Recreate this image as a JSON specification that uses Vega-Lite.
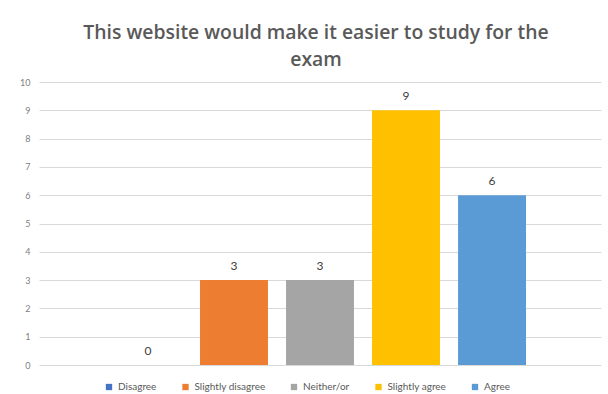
{
  "$schema": "https://vega.github.io/schema/vega-lite/v6.json",
  "width": 562,
  "height": 283,
  "autosize": "none",
  "padding": {"left": 39, "top": 82, "right": 7, "bottom": 29},
  "background": "white",
  "title": {
    "text": ["This website would make it easier to study for the", "exam"],
    "font": "Open Sans",
    "fontSize": 19.4,
    "fontWeight": 600,
    "color": "#595959",
    "lineHeight": 27,
    "offset": 8,
    "anchor": "middle",
    "dx": -4
  },
  "data": {
    "values": [
      {"response": "Disagree", "count": 0},
      {"response": "Slightly disagree", "count": 3},
      {"response": "Neither/or", "count": 3},
      {"response": "Slightly agree", "count": 9},
      {"response": "Agree", "count": 6}
    ]
  },
  "config": {
    "view": {"stroke": null},
    "font": "Lato"
  },
  "encoding": {
    "x": {
      "field": "response",
      "type": "nominal",
      "sort": null,
      "axis": null,
      "scale": {"paddingInner": 0.21, "paddingOuter": 0.872}
    },
    "y": {
      "field": "count",
      "type": "quantitative",
      "scale": {"domain": [0, 10]},
      "axis": {
        "title": null,
        "values": [0, 1, 2, 3, 4, 5, 6, 7, 8, 9, 10],
        "domain": false,
        "ticks": false,
        "labelPadding": 9,
        "labelFontSize": 9,
        "labelColor": "#808080",
        "gridColor": "#d9d9d9",
        "gridWidth": 1
      }
    }
  },
  "layer": [
    {
      "mark": {"type": "bar"},
      "encoding": {
        "color": {
          "field": "response",
          "type": "nominal",
          "sort": null,
          "scale": {
            "domain": ["Disagree", "Slightly disagree", "Neither/or", "Slightly agree", "Agree"],
            "range": ["#4472C4", "#ED7D31", "#A5A5A5", "#FFC000", "#5B9BD5"]
          },
          "legend": {
            "title": null,
            "orient": "none",
            "direction": "horizontal",
            "legendX": 65,
            "legendY": 300,
            "columns": 5,
            "symbolType": "square",
            "symbolSize": 40,
            "symbolStrokeWidth": 0,
            "labelFontSize": 10,
            "labelColor": "#595959",
            "labelOffset": 4,
            "columnPadding": 23.5
          }
        }
      }
    },
    {
      "mark": {"type": "text", "baseline": "bottom", "dy": -7, "fontSize": 12, "color": "#404040"},
      "encoding": {
        "text": {"field": "count", "type": "quantitative"}
      }
    }
  ]
}
